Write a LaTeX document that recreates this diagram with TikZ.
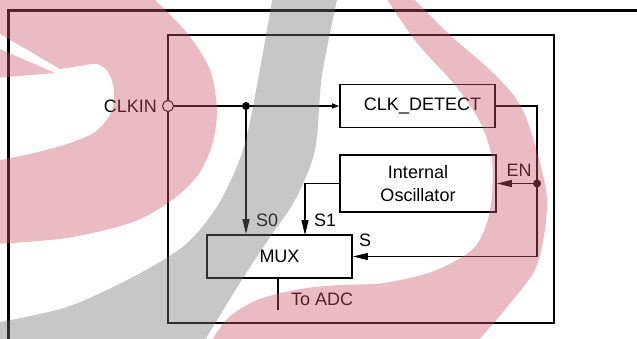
\documentclass[tikz,border=0pt]{standalone}
\usepackage{fontspec}
\setmainfont{Liberation Sans}
\usetikzlibrary{arrows.meta,calc}
\definecolor{wmpink}{RGB}{205,85,108}
\definecolor{wmgray}{RGB}{116,116,116}
\newcommand\dgfont{\fontsize{18}{23}\selectfont}
\begin{document}
\begin{tikzpicture}[x=1pt,y=-1pt,
  frameline/.style={line width=2.6pt},
  chipbox/.style={draw, line width=1.8pt, inner sep=0pt},
  blk/.style={draw, line width=1.8pt, inner sep=0pt, font=\dgfont, align=center, fill=white},
  conn/.style={line width=1.1pt},
  arr/.style={-{Triangle[length=15pt,width=7pt]}},
  smallarr/.style={-{Triangle[length=7pt,width=5pt]}},
  jdot/.style={circle, fill, inner sep=0pt, minimum size=8pt},
  port/.style={circle, draw, fill=white, line width=1pt, inner sep=0pt, minimum size=11pt},
  lbl/.style={font=\dgfont, inner sep=0pt},
  wm/.style={fill opacity=0.4}]
\useasboundingbox (0,0) rectangle (637,338);
\fill[white] (0,0) rectangle (637,338);
% frame
\draw[frameline] (8.5,345) -- (8.5,10.7) -- (645,10.7);
% chip outline
\node[chipbox, minimum width=386pt, minimum height=288pt] (chip) at (361,179) {};
% blocks
\node[blk, minimum width=155pt, minimum height=43pt] (det) at (417.5,106) {\hspace*{10pt}CLK\_DETECT};
\node[blk, minimum width=156pt, minimum height=57pt] (osc) at (418,183.5) {Internal\\Oscillator};
\node[blk, minimum width=145pt, minimum height=43pt] (mux) at (279.5,256.5) {MUX};
% ports and junctions
\node[port] (clkin) at (168,106) {};
\node[jdot] (j1) at (246,106) {};
\node[jdot] (j2) at (537,183.5) {};
\coordinate (s1in) at (305,235);
\coordinate (adc) at (278,310);
% connectors
\draw[conn,smallarr] (clkin) -- (det.west);
\draw[conn,arr] (j1.center) -- (j1.center |- mux.north);
\draw[conn,arr] (osc.west) -| (s1in);
\draw[conn,arr] (det.east) -| (j2.center) |- (mux.east);
\draw[conn,arr] (j2.center) -- (osc.east);
\draw[conn] (adc |- mux.south) -- (adc);
% labels
\node[lbl, anchor=east] (lclkin) at (157,106) {CLKIN};
\node[lbl, anchor=west] (ls0) at (256,220) {S0};
\node[lbl, anchor=west] (ls1) at (314,220) {S1};
\node[lbl, anchor=west] (ls) at (359,240) {S};
\node[lbl] (len) at (519,170) {EN};
\node[lbl, anchor=west] (ladc) at (291,299) {To ADC};
% watermark
\fill[wmpink, wm, even odd rule]
  (-5,-5) -- (150,-5) -- plot[smooth] coordinates {(150,-5) (187,33) (210,70) (217,110) (212,145) (198,175) (172,200) (133,222) (67,238) (-5,244)} -- cycle
  (-5,31) -- (60,69) -- plot[smooth] coordinates {(60,69) (80,66) (97,64) (108,72) (114,90) (111,113) (95,132) (67,144) (30,154) (-5,161)} -- (-5,78) -- (55,73) -- (-5,47) -- cycle;
\fill[wmgray, wm]
  (273,-5) -- (338,-5) -- plot[smooth] coordinates {(338,-5) (322,75) (315,150) (295,200) (270,237) (243,278) (203,343)} -- (-5,343) -- (-5,323) -- plot[smooth] coordinates {(-5,323) (67,307) (133,277) (185,245) (218,205) (243,150) (258,80) (273,-5)} -- cycle;
\fill[wmpink, wm]
  plot[smooth] coordinates {(384,-5) (417,43) (455,85) (480,122) (492,160) (490,211) (474,248) (434,271) (384,283) (340,285) (300,289) (257,300) (228,318) (210,343)} -- (476,343) -- plot[smooth] coordinates {(476,343) (507,307) (537,265) (547,200) (532,135) (517,100) (490,70) (450,35) (410,-5)} -- cycle;
\end{tikzpicture}
\end{document}
